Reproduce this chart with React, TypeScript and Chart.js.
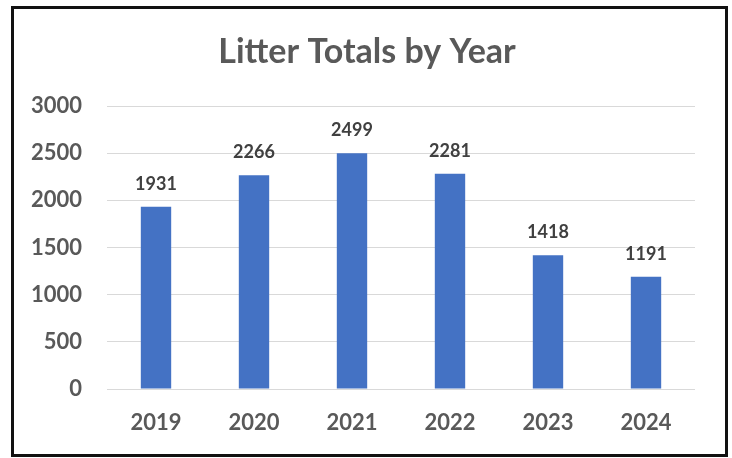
import React, { useEffect, useRef } from "react";
import { Chart, registerables } from "chart.js";

Chart.register(...registerables);

const years = ["2019", "2020", "2021", "2022", "2023", "2024"];
const litterTotals = [1931, 2266, 2499, 2281, 1418, 1191];
const yTicks = [0, 500, 1000, 1500, 2000, 2500, 3000];
const chartTitle = "Litter Totals by Year";

const FONT = "Lato, 'Open Sans', sans-serif";
const BAR_BLUE = "#4472C4";
const TEXT_GRAY = "#595959";
const LABEL_GRAY = "#404040";

// Bold title centred across the canvas
const titlePlugin = {
  id: "centerTitle",
  afterDraw(chart: Chart) {
    const ctx = chart.ctx;
    ctx.save();
    ctx.font = `bold 34px ${FONT}`;
    ctx.fillStyle = TEXT_GRAY;
    ctx.textAlign = "center";
    ctx.textBaseline = "alphabetic";
    ctx.fillText(chartTitle, chart.width / 2 + 1, 63);
    ctx.restore();
  },
};

// Value labels above each bar
const valueLabelPlugin = {
  id: "valueLabels",
  afterDatasetsDraw(chart: Chart) {
    const ctx = chart.ctx;
    const meta = chart.getDatasetMeta(0);
    const values = chart.data.datasets[0].data as number[];
    ctx.save();
    ctx.font = `bold 18px ${FONT}`;
    ctx.fillStyle = LABEL_GRAY;
    ctx.textAlign = "center";
    ctx.textBaseline = "alphabetic";
    meta.data.forEach((bar: any, i: number) => {
      ctx.fillText(String(values[i]), bar.x, bar.y - 17);
    });
    ctx.restore();
  },
};

export default function App() {
  const canvasRef = useRef<HTMLCanvasElement | null>(null);

  useEffect(() => {
    if (!canvasRef.current) return;
    const chart = new Chart(canvasRef.current, {
      type: "bar",
      data: {
        labels: years,
        datasets: [
          {
            data: litterTotals,
            backgroundColor: BAR_BLUE,
            borderWidth: 0,
            barPercentage: 0.31,
            categoryPercentage: 1,
          },
        ],
      },
      options: {
        animation: false,
        responsive: false,
        devicePixelRatio: 1,
        layout: { padding: { top: 106, right: 37, bottom: 0, left: 0 } },
        plugins: {
          legend: { display: false },
          title: { display: false },
          tooltip: { enabled: false },
        },
        scales: {
          x: {
            grid: { display: false, drawTicks: false },
            border: { display: false },
            ticks: {
              color: TEXT_GRAY,
              font: { family: FONT, size: 22, weight: "bold" },
              padding: 21,
            },
            afterFit(scale: any) {
              scale.height = 69;
            },
          },
          y: {
            min: 0,
            max: 3000,
            afterBuildTicks(scale: any) {
              scale.ticks = yTicks.map((v) => ({ value: v }));
            },
            grid: { color: "#D9D9D9", lineWidth: 1, drawTicks: false },
            border: { display: false },
            ticks: {
              color: TEXT_GRAY,
              font: { family: FONT, size: 22, weight: "bold" },
              padding: 25,
              callback: (value: any) => String(value),
            },
            afterFit(scale: any) {
              scale.width = 107;
            },
          },
        },
      },
      plugins: [titlePlugin, valueLabelPlugin],
    });
    return () => chart.destroy();
  }, []);

  return (
    <div
      style={{
        position: "fixed",
        left: 0,
        top: 0,
        width: 732,
        height: 458,
        background: "#ffffff",
      }}
    >
      <canvas ref={canvasRef} width={732} height={458} style={{ display: "block" }} />
      <div
        style={{
          position: "absolute",
          left: 11,
          top: 6,
          width: 717,
          height: 451,
          border: "3px solid #111111",
          boxSizing: "border-box",
          pointerEvents: "none",
        }}
      />
    </div>
  );
}
